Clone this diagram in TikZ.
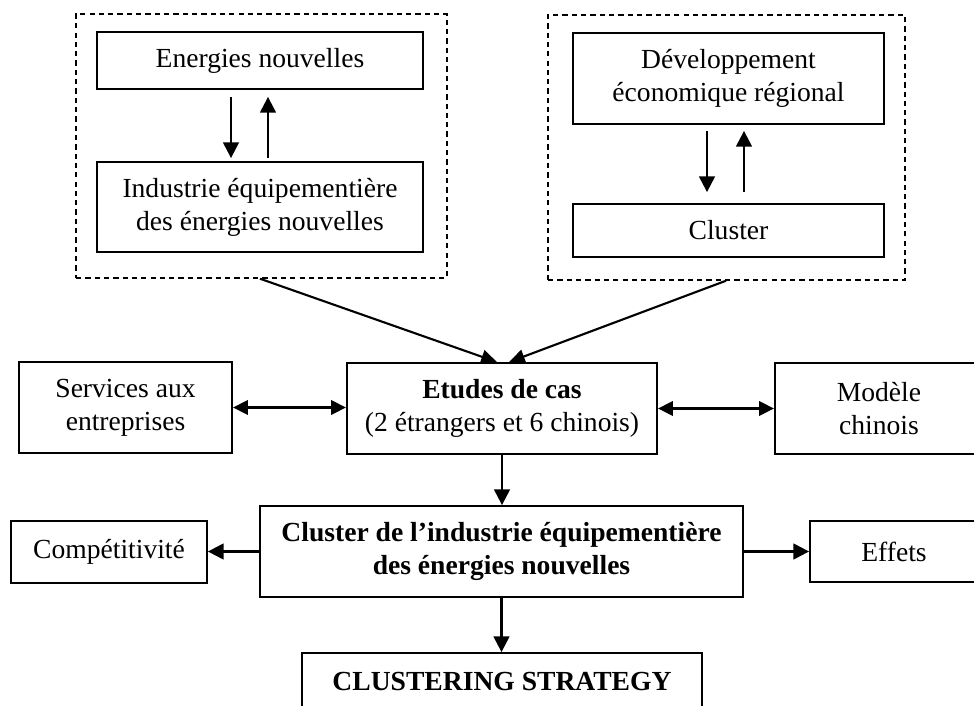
\documentclass[tikz,border=0pt]{standalone}
\usepackage{fontspec}
\setmainfont{Liberation Serif}
\usetikzlibrary{arrows.meta}
\begin{document}
\begin{tikzpicture}[x=0.02cm, y=-0.02cm,
  box/.style={draw, line width=1.05pt, rectangle, inner sep=0pt, align=center,
    font=\fontsize{15.7}{18.7}\selectfont},
  group/.style={draw, line width=0.85pt, dash pattern=on 3pt off 2.3pt, rectangle, inner sep=0pt},
  arr/.style={line width=1.3pt, -{Triangle[length=9pt, width=9pt]}},
  darr/.style={line width=1.7pt, {Triangle[length=8.5pt, width=8pt]}-{Triangle[length=8.5pt, width=8pt]}},
  link/.style={line width=1.2pt, -{Triangle[length=9pt, width=8pt]}}]
\useasboundingbox (0,0) rectangle (974,706);
\clip (0,0) rectangle (974,706);

% Left group: new energies and their equipment industry
\node[group, minimum width=7.42cm, minimum height=5.28cm] (gL) at (261.5,146) {};
\node[box, minimum width=6.52cm, minimum height=1.14cm] (en) at (260,60.5) {Energies nouvelles};
\node[box, minimum width=6.52cm, minimum height=1.8cm] (ind) at (260,207)
  {Industrie équipementière\\des énergies nouvelles};
\draw[arr] ([xshift=-0.58cm, yshift=-0.14cm]en.south) -- ([xshift=-0.58cm, yshift=0.06cm]ind.north);
\draw[arr] ([xshift=0.16cm, yshift=0.06cm]ind.north) -- ([xshift=0.16cm, yshift=-0.14cm]en.south);

% Right group: regional development and clusters
\node[group, minimum width=7.14cm, minimum height=5.3cm] (gR) at (726.5,147.5) {};
\node[box, minimum width=6.22cm, minimum height=1.82cm] (dev) at (728.5,78.5)
  {Développement\\économique régional};
\node[box, minimum width=6.22cm, minimum height=1.06cm] (clu) at (728.5,230.5) {Cluster};
\draw[arr] ([xshift=-0.43cm, yshift=-0.12cm]dev.south) -- ([xshift=-0.43cm, yshift=0.22cm]clu.north);
\draw[arr] ([xshift=0.31cm, yshift=0.22cm]clu.north) -- ([xshift=0.31cm, yshift=-0.12cm]dev.south);

% Middle row
\node[box, minimum width=4.26cm, minimum height=1.82cm] (serv) at (125.5,407.5)
  {Services aux\\entreprises};
\node[box, minimum width=6.2cm, minimum height=1.82cm] (etu) at (502,408.5)
  {\textbf{Etudes de cas}\\(2 étrangers et 6 chinois)};
\node[box, minimum width=4.16cm, minimum height=1.82cm] (mod) at (879,408.5)
  {Modèle\\chinois};

% Lower rows
\node[box, minimum width=9.66cm, minimum height=1.82cm] (cl2) at (501.5,551.5)
  {\textbf{Cluster de l’industrie équipementière}\\\textbf{des énergies nouvelles}};
\node[box, minimum width=3.92cm, minimum height=1.24cm] (comp) at (109,552) {Compétitivité};
\node[box, minimum width=3.36cm, minimum height=1.22cm] (eff) at (894,551.5) {Effets};
\node[box, minimum width=8cm, minimum height=1.12cm] (strat) at (502,681)
  {\textbf{CLUSTERING STRATEGY}};

% Connectors
\draw[link] ([xshift=-0.03cm]gL.south) -- ([xshift=-0.1cm]etu.north);
\draw[link] ([xshift=-0.01cm]gR.south) -- ([xshift=0.14cm]etu.north);
\draw[darr] (serv.east) -- (serv.east -| etu.west);
\draw[darr] (etu.east) -- (etu.east -| mod.west);
\draw[arr] (etu.south) -- (etu.south |- cl2.north);
\draw[arr] (cl2.west) -- (cl2.west -| comp.east);
\draw[arr] (cl2.east) -- (cl2.east -| eff.west);
\draw[arr] (cl2.south) -- (cl2.south |- strat.north);
\end{tikzpicture}
\end{document}
